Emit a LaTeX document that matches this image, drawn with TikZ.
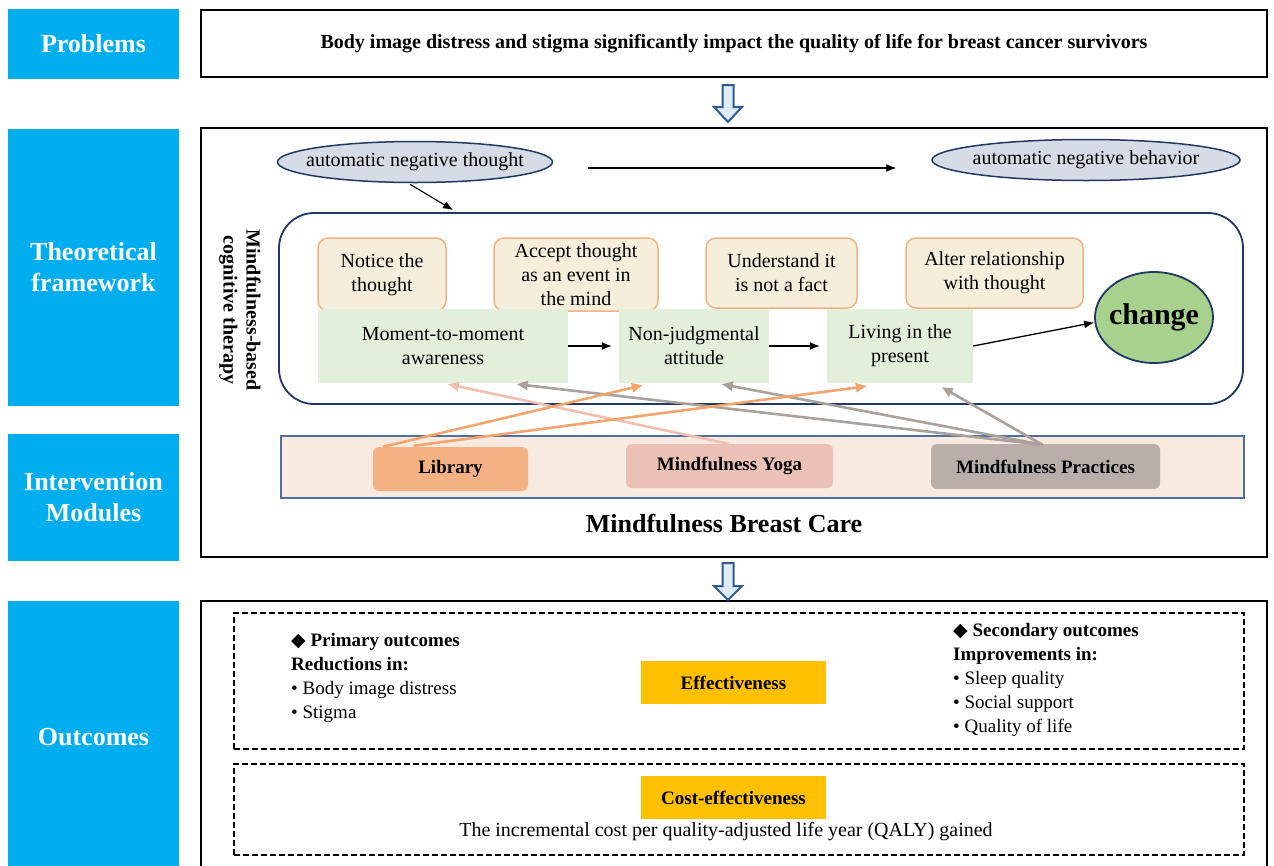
\documentclass[tikz,border=0pt]{standalone}
\usepackage{fontspec}
\setmainfont{Liberation Serif}
\newfontfamily\dejavu{DejaVu Sans}
\usetikzlibrary{shapes.geometric,arrows.meta,calc}
\definecolor{labblue}{HTML}{00AEEF}
\definecolor{ellfill}{HTML}{D6DCE5}
\definecolor{navy}{HTML}{1F3864}
\definecolor{obfill}{HTML}{F5EEDB}
\definecolor{obdraw}{HTML}{F4B183}
\definecolor{gfill}{HTML}{E2EFDA}
\definecolor{chfill}{HTML}{A9D18E}
\definecolor{bandfill}{HTML}{F8EADE}
\definecolor{bandline}{HTML}{4F6FA0}
\definecolor{libc}{HTML}{F4B183}
\definecolor{yogac}{HTML}{EBC1B5}
\definecolor{pracc}{HTML}{B9AFA9}
\definecolor{arrOr}{HTML}{F4A56E}
\definecolor{arrPk}{HTML}{F1BEAF}
\definecolor{arrGr}{HTML}{A9A19C}
\definecolor{goldc}{HTML}{FFC000}
\definecolor{harrfill}{HTML}{DEEBF7}
\definecolor{harrline}{HTML}{2F5A8E}
\newcommand{\dia}{{\dejavu\char"25C6}}
\tikzset{
  lab/.style={fill=labblue, text=white, font=\bfseries\fontsize{26}{31}\selectfont, align=center, inner sep=0pt},
  frame/.style={draw=black, line width=2.2pt, inner sep=0pt},
  ell/.style={ellipse, draw=navy, line width=1.5pt, fill=ellfill, inner sep=0pt, font=\fontsize{20}{24}\selectfont},
  obox/.style={draw=obdraw, fill=obfill, line width=1.5pt, rounded corners=10pt, inner sep=0pt, align=center, font=\fontsize{20}{24}\selectfont},
  gbox/.style={fill=gfill, inner sep=0pt, align=center, font=\fontsize{20}{24}\selectfont},
  modbox/.style={rounded corners=6pt, inner sep=0pt, font=\bfseries\fontsize{19}{22}\selectfont},
  blk/.style={-{Latex[length=10pt,width=8pt]}, line width=1.3pt},
  marr/.style={-{Triangle[length=11pt,width=9pt]}, line width=2.6pt},
  dbox/.style={draw=black, line width=1.8pt, dash pattern=on 6pt off 3pt, inner sep=0pt},
  goldbox/.style={fill=goldc, inner sep=0pt, font=\bfseries\fontsize{19}{22}\selectfont},
  harr/.style={draw=harrline, fill=harrfill, line width=2pt, line join=miter},
  txt/.style={inner sep=0pt, align=left, font=\fontsize{19}{24}\selectfont}
}
\begin{document}
\begin{tikzpicture}[x=1pt,y=-1pt]
\useasboundingbox (0,0) rectangle (1274,865);
\clip (0,0) rectangle (1274,865);
% left labels
\node[lab, minimum width=171, minimum height=70] (prob) at (93.5,44) {Problems};
\node[lab, minimum width=171, minimum height=277] (theo) at (93.5,267.5) {Theoretical\\framework};
\node[lab, minimum width=171, minimum height=127] (inter) at (93.5,497.5) {Intervention\\Modules};
\node[lab, minimum width=171, minimum height=272] (outc) at (93.5,737) {Outcomes};
% frames
\node[frame, minimum width=1066, minimum height=67, font=\bfseries\fontsize{20}{24}\selectfont] (probbox) at (734,43.5) {Body image distress and stigma significantly impact the quality of life for breast cancer survivors};
\node[frame, minimum width=1066, minimum height=429] (midbox) at (734,342.5) {};
\node[frame, minimum width=1066, minimum height=272] (outbox) at (734,737) {};
% hollow arrows
\draw[harr] (722.5,85) -- (733.5,85) -- (733.5,107) -- (742,107) -- (728,122) -- (714,107) -- (722.5,107) -- cycle;
\draw[harr] (722.5,563) -- (733.5,563) -- (733.5,586) -- (742,586) -- (728,600) -- (714,586) -- (722.5,586) -- cycle;
% theoretical framework
\node[ell, minimum width=275, minimum height=41] (ant) at (415,162) {\makebox[0pt]{automatic negative thought}};
\node[ell, minimum width=308, minimum height=41] (anb) at (1086,160) {\makebox[0pt]{automatic negative behavior}};
\draw[blk] ($(ant.east)+(35,6)$) -- ($(anb.west)+(-35,8)$);
\draw[draw=navy, line width=1.8pt, rounded corners=35pt] (279,213) rectangle (1243,404);
\coordinate (mbtop) at (453,210);
\draw[blk, line width=1.1pt] ($(ant.south)+(-5,1)$) -- (mbtop);
\node[rotate=-90, align=center, inner sep=0pt, font=\bfseries\fontsize{20}{23}\selectfont] (mbct) at (240,310) {Mindfulness-based\\cognitive therapy};
\node[obox, minimum width=128, minimum height=73] (n1) at (382,274.5) {Notice the\\thought};
\node[obox, minimum width=164, minimum height=73] (n2) at (576,274.5) {Accept thought\\as an event in\\the mind};
\node[obox, minimum width=151, minimum height=70] (n3) at (781.5,273) {Understand it\\is not a fact};
\node[obox, minimum width=177, minimum height=70] (n4) at (994.5,273) {Alter relationship\\with thought};
\node[gbox, minimum width=250, minimum height=74] (g1) at (443,346) {Moment-to-moment\\awareness};
\node[gbox, minimum width=150, minimum height=74] (g2) at (694,346) {Non-judgmental\\attitude};
\node[gbox, minimum width=146, minimum height=74] (g3) at (900,346) {Living in the\\present};
\node[ellipse, draw=navy, line width=1.8pt, fill=chfill, inner sep=0pt, minimum width=118, minimum height=91, font=\bfseries\fontsize{30}{34}\selectfont] (ch) at (1154,317.5) {\makebox[0pt]{change}};
\draw[blk] (g1.east) -- ([xshift=-7pt]g2.west);
\draw[blk] (g2.east) -- ([xshift=-7pt]g3.west);
\draw[blk] (g3.east) -- ($(ch.west)+(0,5)$);
% intervention modules
\node[draw=bandline, line width=1.5pt, fill=bandfill, minimum width=963, minimum height=62, inner sep=0pt] (band) at (762.5,467) {};
\node[modbox, fill=libc, minimum width=155, minimum height=44] (lib) at (450.5,469) {Library};
\node[modbox, fill=yogac, minimum width=207, minimum height=44] (yoga) at (729.5,466) {Mindfulness Yoga};
\node[modbox, fill=pracc, minimum width=229, minimum height=45] (prac) at (1045.5,466.5) {Mindfulness Practices};
\node[inner sep=0pt, font=\bfseries\fontsize{26}{30}\selectfont] (mbc) at (724,523) {Mindfulness Breast Care};
\draw[marr, arrPk] ($(yoga.north)+(-1,0)$) -- ($(g1.south west)+(130,1)$);
\draw[marr, arrGr] ($(prac.north)+(-3,1)$) -- ($(g1.south west)+(199,1)$);
\draw[marr, arrGr] ($(prac.north)+(-3,1)$) -- ($(g2.south west)+(103,1)$);
\draw[marr, arrGr] ($(prac.north)+(-3,1)$) -- ($(g3.south west)+(115,4)$);
\draw[marr, arrOr] ($(lib.north west)+(10,0)$) -- ($(g2.south west)+(24,2)$);
\draw[marr, arrOr] ($(lib.north west)+(41,-1)$) -- ($(g3.south west)+(40,3)$);
% outcomes
\node[dbox, minimum width=1010, minimum height=136] (eff) at (739,681) {};
\node[dbox, minimum width=1010, minimum height=91] (cost) at (739,809.5) {};
\node[txt, anchor=north west] (prim) at (291,633) {\textbf{\dia\ Primary outcomes}\\\textbf{Reductions in:}\\• Body image distress\\• Stigma};
\node[txt, anchor=north west] (sec) at (953,623) {\textbf{\dia\ Secondary outcomes}\\\textbf{Improvements in:}\\• Sleep quality\\• Social support\\• Quality of life};
\node[goldbox, minimum width=185, minimum height=43] (effb) at (733.5,682.5) {Effectiveness};
\node[goldbox, minimum width=185, minimum height=43] (costb) at (733.5,797.5) {Cost-effectiveness};
\node[inner sep=0pt, font=\fontsize{20}{24}\selectfont] (qaly) at (726,832) {The incremental cost per quality-adjusted life year (QALY) gained};
\end{tikzpicture}
\end{document}
